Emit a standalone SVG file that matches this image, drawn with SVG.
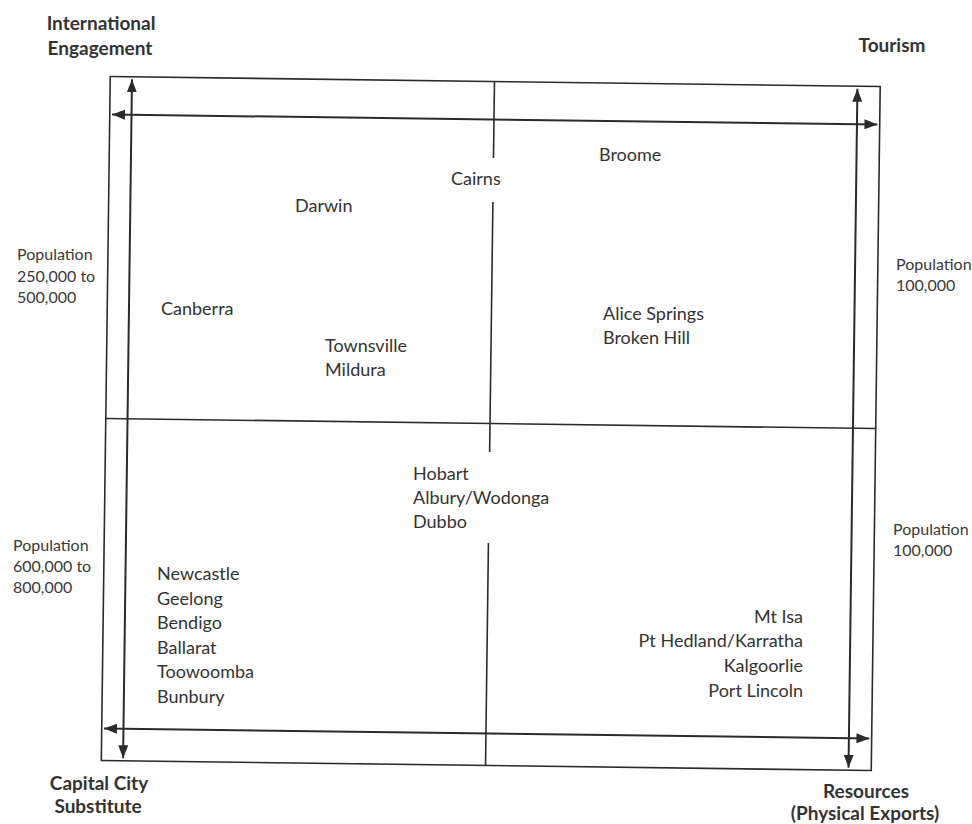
<svg xmlns="http://www.w3.org/2000/svg" width="972" height="824" viewBox="0 0 972 824">
<style>
.ln{stroke:#2b2b2b;stroke-width:1.6;fill:none}
.ar{stroke:#2b2b2b;stroke-width:2;fill:none;marker-start:url(#ah);marker-end:url(#ah)}
.t{font-family:Lato,"Liberation Sans",sans-serif;font-size:18px;fill:#333}
.s{font-family:Lato,"Liberation Sans",sans-serif;font-size:16px;fill:#3a3a3a}
.b{font-family:Lato,"Liberation Sans",sans-serif;font-size:19px;font-weight:bold;fill:#333;text-anchor:middle}
.r{text-anchor:end}
</style>
<defs>
<marker id="ah" viewBox="0 0 13 10" refX="13" refY="5" markerWidth="13" markerHeight="10" markerUnits="userSpaceOnUse" orient="auto-start-reverse">
<path d="M0,0 L13,5 L0,10 Z" fill="#2b2b2b"/>
</marker>
</defs>
<rect width="972" height="824" fill="#fff"/>
<g id="connectors" transform="rotate(0.75 490.75 423.5)">
<rect id="frame" class="ln" x="105.75" y="81.5" width="770" height="684"/>
<line class="ln" x1="105.75" y1="423.5" x2="875.75" y2="423.5"/>
<line class="ln" x1="490" y1="81.5" x2="490" y2="158"/>
<line class="ln" x1="490" y1="202" x2="490" y2="452"/>
<line class="ln" x1="490" y1="543" x2="490" y2="765.5"/>
<line class="ar" x1="127.5" y1="763" x2="127.5" y2="84"/>
<line class="ar" x1="853" y1="763" x2="853" y2="84"/>
<line class="ar" x1="873.5" y1="119.5" x2="108" y2="119.5"/>
<line class="ar" x1="873.5" y1="733.5" x2="108" y2="733.5"/>
</g>
<g id="axis-labels">
<text class="b" x="101" y="30">International</text>
<text class="b" x="100" y="55">Engagement</text>
<text class="b" x="892" y="52">Tourism</text>
<text class="b" x="99" y="790">Capital City</text>
<text class="b" x="98" y="813">Substitute</text>
<text class="b" x="866" y="798">Resources</text>
<text class="b" x="865" y="820">(Physical Exports)</text>
</g>
<g id="population-labels">
<text class="s" x="17" y="260">Population</text>
<text class="s" x="17" y="282">250,000 to</text>
<text class="s" x="17" y="303">500,000</text>
<text class="s" x="896" y="270">Population</text>
<text class="s" x="896" y="291">100,000</text>
<text class="s" x="13" y="551">Population</text>
<text class="s" x="13" y="572">600,000 to</text>
<text class="s" x="13" y="593">800,000</text>
<text class="s" x="893" y="535">Population</text>
<text class="s" x="893" y="556">100,000</text>
</g>
<g id="q-top-left">
<text class="t" x="295" y="212">Darwin</text>
<text class="t" x="161" y="315">Canberra</text>
<text class="t" x="325" y="352">Townsville</text>
<text class="t" x="325" y="376">Mildura</text>
</g>
<g id="centre">
<text class="t" x="451" y="185">Cairns</text>
<text class="t" x="413" y="480">Hobart</text>
<text class="t" x="413" y="504">Albury/Wodonga</text>
<text class="t" x="413" y="528">Dubbo</text>
</g>
<g id="q-top-right">
<text class="t" x="599" y="161">Broome</text>
<text class="t" x="603" y="320">Alice Springs</text>
<text class="t" x="603" y="344">Broken Hill</text>
</g>
<g id="q-bottom-left">
<text class="t" x="157" y="580">Newcastle</text>
<text class="t" x="157" y="604.5">Geelong</text>
<text class="t" x="157" y="629">Bendigo</text>
<text class="t" x="157" y="653.5">Ballarat</text>
<text class="t" x="157" y="678">Toowoomba</text>
<text class="t" x="157" y="702.5">Bunbury</text>
</g>
<g id="q-bottom-right">
<text class="t r" x="803" y="623">Mt Isa</text>
<text class="t r" x="803" y="647">Pt Hedland/Karratha</text>
<text class="t r" x="803" y="672">Kalgoorlie</text>
<text class="t r" x="803" y="697">Port Lincoln</text>
</g>
</svg>
